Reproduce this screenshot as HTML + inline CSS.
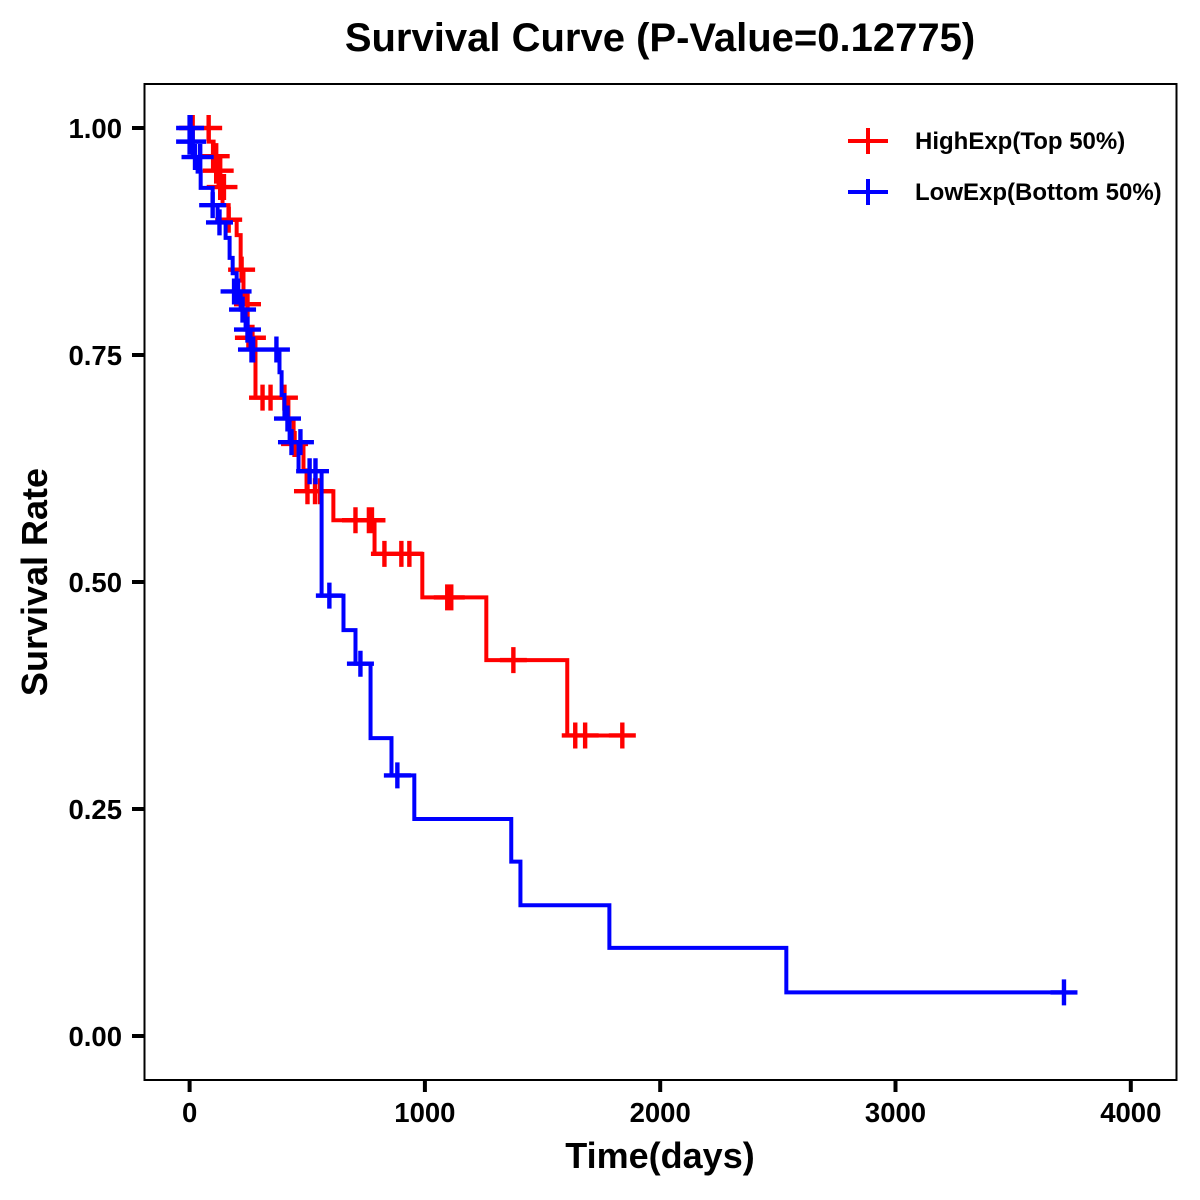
<!DOCTYPE html>
<html>
<head>
<meta charset="utf-8">
<style>
html,body{margin:0;padding:0;background:#fff;width:1200px;height:1200px;overflow:hidden}
svg{display:block}
text{font-family:"Liberation Sans",Arial,sans-serif;font-weight:bold;fill:#000}
</style>
</head>
<body>
<svg id="chart" width="1200" height="1200" viewBox="0 0 1200 1200" xmlns="http://www.w3.org/2000/svg">
<rect x="0" y="0" width="1200" height="1200" fill="#fff"/>
<text x="660" y="51" font-size="40" text-anchor="middle">Survival Curve (P-Value=0.12775)</text>
<text x="660" y="1168" font-size="36" text-anchor="middle">Time(days)</text>
<text transform="translate(47,582) rotate(-90)" font-size="36" text-anchor="middle">Survival Rate</text>
<g id="ticks"></g>
<g id="series"></g>
<rect x="144.5" y="84" width="1032" height="996" fill="none" stroke="#000" stroke-width="2"/>
<g>
  <g>
    <path d="M848 141H888M868 128V154" stroke="#f00" stroke-width="4" fill="none"/>
    <text x="915" y="149" font-size="24">HighExp(Top 50%)</text>
  </g>
  <g>
    <path d="M848 192H888M868 179V205" stroke="#00f" stroke-width="4" fill="none"/>
    <text x="915" y="200" font-size="24">LowExp(Bottom 50%)</text>
  </g>
</g>
</svg>
<script>
var xTicks = [0, 1000, 2000, 3000, 4000];
var yTicks = [0, 0.25, 0.5, 0.75, 1];
var yTickLabels = ["0.00", "0.25", "0.50", "0.75", "1.00"];

var highTimes = [0, 81, 102, 110, 123, 140, 166, 200, 217, 229, 246, 280, 420, 442, 484, 497, 611, 786, 989, 1261, 1605, 1839];
var highSurv = [1, 0.985, 0.969, 0.953, 0.935, 0.915, 0.899, 0.882, 0.844, 0.806, 0.769, 0.703, 0.678, 0.652, 0.623, 0.600, 0.568, 0.531, 0.483, 0.414, 0.331, 0.331];
var highCensorTimes = [13, 81, 100, 113, 113, 130, 130, 146, 166, 221, 246, 250, 267, 310, 344, 403, 446, 501, 533, 554, 705, 762, 775, 828, 900, 934, 1095, 1104, 1112, 1376, 1639, 1681, 1839];
var highCensorSurv = [1, 1, 0.969, 0.969, 0.953, 0.953, 0.935, 0.935, 0.899, 0.844, 0.806, 0.769, 0.769, 0.703, 0.703, 0.703, 0.652, 0.600, 0.600, 0.600, 0.568, 0.568, 0.568, 0.531, 0.531, 0.531, 0.483, 0.483, 0.483, 0.414, 0.331, 0.331, 0.331];

var lowTimes = [0, 4, 13, 34, 47, 98, 119, 153, 170, 183, 200, 217, 238, 259, 382, 391, 403, 425, 463, 561, 654, 705, 769, 858, 955, 1367, 1406, 1784, 2536, 3716];
var lowSurv = [1, 0.985, 0.968, 0.952, 0.934, 0.915, 0.896, 0.879, 0.857, 0.840, 0.820, 0.800, 0.778, 0.756, 0.731, 0.706, 0.680, 0.654, 0.622, 0.485, 0.447, 0.410, 0.328, 0.287, 0.239, 0.192, 0.144, 0.097, 0.048, 0.048];
var lowCensorTimes = [0, 4, 0, 13, 23, 45, 98, 127, 189, 206, 225, 246, 263, 270, 369, 416, 433, 471, 510, 535, 594, 726, 883, 3716];
var lowCensorSurv = [1, 1, 0.985, 0.985, 0.968, 0.968, 0.915, 0.896, 0.820, 0.820, 0.800, 0.778, 0.756, 0.756, 0.756, 0.680, 0.654, 0.654, 0.622, 0.622, 0.485, 0.410, 0.287, 0.048];

var NS = "http://www.w3.org/2000/svg";
function xPos(t) { return 189.6 + t * 0.2353; }
function yPos(s) { return 1036 - s * 908; }

function stepPath(times, surv) {
  var d = "M" + xPos(times[0]) + " " + yPos(surv[0]);
  for (var i = 1; i < times.length; i++) {
    d += "H" + xPos(times[i]) + "V" + yPos(surv[i]);
  }
  return d;
}

function censorPath(times, surv) {
  var d = "";
  for (var i = 0; i < times.length; i++) {
    var x = xPos(times[i]), y = yPos(surv[i]);
    d += "M" + (x - 13.5) + " " + y + "H" + (x + 13.5) + "M" + x + " " + (y - 13) + "V" + (y + 13);
  }
  return d;
}

var seriesLayer = document.getElementById("series");
var tickLayer = document.getElementById("ticks");

var highLine = document.createElementNS(NS, "path");


highLine.setAttribute("d", stepPath(highTimes, highSurv));
highLine.setAttribute("fill", "none");
highLine.setAttribute("stroke", "#f00");
highLine.setAttribute("stroke-width", "4");
seriesLayer.appendChild(highLine);

var highMarks = document.createElementNS(NS, "path");


highMarks.setAttribute("d", censorPath(highCensorTimes, highCensorSurv));
highMarks.setAttribute("fill", "none");
highMarks.setAttribute("stroke", "#f00");
highMarks.setAttribute("stroke-width", "4.4");
seriesLayer.appendChild(highMarks);

var lowLine = document.createElementNS(NS, "path");


lowLine.setAttribute("d", stepPath(lowTimes, lowSurv));
lowLine.setAttribute("fill", "none");
lowLine.setAttribute("stroke", "#00f");
lowLine.setAttribute("stroke-width", "4");
seriesLayer.appendChild(lowLine);

var lowMarks = document.createElementNS(NS, "path");


lowMarks.setAttribute("d", censorPath(lowCensorTimes, lowCensorSurv));
lowMarks.setAttribute("fill", "none");
lowMarks.setAttribute("stroke", "#00f");
lowMarks.setAttribute("stroke-width", "4.4");
seriesLayer.appendChild(lowMarks);

xTicks.forEach(function (v) {
  var tick = document.createElementNS(NS, "line");
  
  
  tick.setAttribute("x1", xPos(v));
  tick.setAttribute("x2", xPos(v));
  tick.setAttribute("y1", 1080);
  tick.setAttribute("y2", 1092);
  tick.setAttribute("stroke", "#000");
  tick.setAttribute("stroke-width", "4");
  tickLayer.appendChild(tick);
  var label = document.createElementNS(NS, "text");
  
  
  label.setAttribute("x", xPos(v));
  label.setAttribute("y", 1122);
  label.setAttribute("font-size", "27.5");
  label.setAttribute("text-anchor", "middle");
  label.textContent = String(v);
  tickLayer.appendChild(label);
});

yTicks.forEach(function (v, i) {
  var tick = document.createElementNS(NS, "line");
  
  
  tick.setAttribute("x1", 132);
  tick.setAttribute("x2", 144);
  tick.setAttribute("y1", yPos(v));
  tick.setAttribute("y2", yPos(v));
  tick.setAttribute("stroke", "#000");
  tick.setAttribute("stroke-width", "4");
  tickLayer.appendChild(tick);
  var label = document.createElementNS(NS, "text");
  
  
  label.setAttribute("x", 122);
  label.setAttribute("y", yPos(v) + 10);
  label.setAttribute("font-size", "27.5");
  label.setAttribute("text-anchor", "end");
  label.textContent = yTickLabels[i];
  tickLayer.appendChild(label);
});
</script>
</body>
</html>
